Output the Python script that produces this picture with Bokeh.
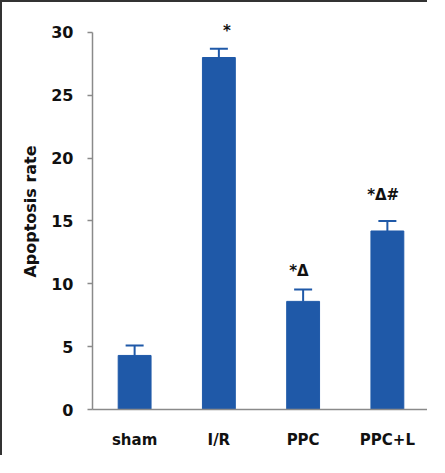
from bokeh.plotting import figure
from bokeh.models import ColumnDataSource, Whisker, TeeHead, Range1d
from bokeh.core.properties import value
from bokeh.embed import file_html
from bokeh.resources import INLINE

# ---- data ----
cats = ["sham", "I/R", "PPC", "PPC+L"]
means = [4.3, 28.0, 8.6, 14.2]
errs = [0.8, 0.7, 0.95, 0.8]
y_ticks = [0, 5, 10, 15, 20, 25, 30]
sig_text = ["*", "*\u0394", "*\u0394#"]
sig_cats = ["I/R", "PPC", "PPC+L"]
sig_y = [30.1, 11.05, 17.1]

BLUE = "#1f59a8"
AXIS = "#8a8a8a"
FONT = "DejaVu Sans"

src = ColumnDataSource(dict(cat=cats, mean=means,
                            upper=[m + e for m, e in zip(means, errs)]))

p = figure(x_range=cats, y_range=Range1d(0, 31.5),
           width=427, height=455,
           min_border_left=90, min_border_right=0,
           min_border_top=11, min_border_bottom=48,
           output_backend="svg", toolbar_location=None,
           background_fill_color="white", border_fill_color="white")
p.styles = {"border-left": "2px solid #333333", "border-top": "2px solid #333333"}
p.outline_line_color = None
p.xgrid.grid_line_color = None
p.ygrid.grid_line_color = None

p.vbar(x="cat", top="mean", width=0.39, source=src,
       fill_color=BLUE, line_color=BLUE)

w = Whisker(source=src, base="cat", upper="upper", lower="mean",
            line_color=BLUE, line_width=2,
            upper_head=TeeHead(size=18, line_color=BLUE, line_width=2),
            lower_head=None, level="overlay")
p.add_layout(w)

# significance marks
offs = [0.095, -0.05, -0.05]
sig_src = ColumnDataSource(dict(x=[(c, o) for c, o in zip(sig_cats, offs)],
                                y=sig_y, t=sig_text))
p.text(x="x", y="y", text="t", source=sig_src,
       text_font=value(FONT), text_font_style="bold", text_font_size="15px",
       text_align="center", text_baseline="alphabetic", text_color="#111111")

# y axis
ya = p.yaxis[0]
ya.ticker = y_ticks
ya.bounds = (0, 30)
ya.axis_label = "Apoptosis rate"
ya.axis_label_text_font = FONT
ya.axis_label_text_font_style = "bold"
ya.axis_label_text_font_size = "16px"
ya.axis_label_text_color = "#111111"
ya.axis_label_standoff = 8
ya.major_label_text_font = FONT
ya.major_label_text_font_style = "bold"
ya.major_label_text_font_size = "16px"
ya.major_label_text_color = "#111111"
ya.major_label_standoff = 14
ya.axis_line_color = AXIS
ya.axis_line_width = 1.5
ya.major_tick_line_color = AXIS
ya.major_tick_line_width = 1.5
ya.major_tick_in = 0
ya.major_tick_out = 5
ya.minor_tick_line_color = None

# x axis
xa = p.xaxis[0]
xa.axis_line_color = AXIS
xa.axis_line_width = 1.5
xa.major_tick_line_color = None
xa.minor_tick_line_color = None
xa.major_label_text_font = FONT
xa.major_label_text_font_style = "bold"
xa.major_label_text_font_size = "15px"
xa.major_label_text_color = "#111111"
xa.major_label_standoff = 15

open("out.html", "w").write(file_html(p, INLINE))
